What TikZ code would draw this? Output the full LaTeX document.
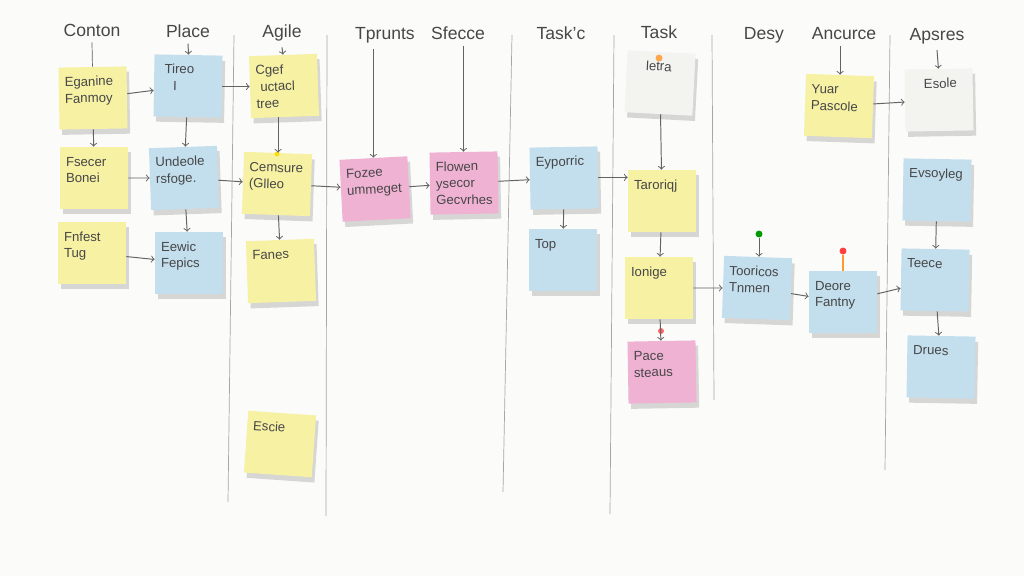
\documentclass[tikz,border=0pt]{standalone}
\usepackage{fontspec}
\setmainfont{Liberation Sans}
\usepackage{xcolor}
\usepackage{tikz}
\usetikzlibrary{shapes,arrows,positioning,shadows}

\definecolor{board}{HTML}{FBFBFA}
\definecolor{ink}{HTML}{474747}
\definecolor{noteyellow}{HTML}{F7F1A4}
\definecolor{noteblue}{HTML}{C3DEED}
\definecolor{notepink}{HTML}{EFB2D3}
\definecolor{notewhite}{HTML}{F3F3F0}

\begin{document}
\begin{tikzpicture}[x=0.02cm, y=-0.02cm,
  note/.style={rectangle, text width=1.12cm, text height=0.26cm, text depth=0.74cm, inner sep=0.12cm, align=left, font=\fontsize{7.5}{9.5}\selectfont, text=ink, drop shadow={shadow xshift=1.5pt, shadow yshift=-3pt, fill=black!30, opacity=0.5}},
  ynote/.style={note, fill=noteyellow},
  bnote/.style={note, fill=noteblue},
  pnote/.style={note, fill=notepink},
  wnote/.style={note, fill=notewhite},
  head/.style={font=\fontsize{10}{12}\selectfont, text=ink},
  tack/.style={circle, inner sep=1.4pt},
  divider/.style={draw=black!35, thin},
  line/.style={draw=ink!85, line width=0.55pt, ->}]

  \useasboundingbox [fill=board] (0,0) rectangle (1024,576);

  % column lines
  \draw [divider] (234,35) -- (228,502);
  \draw [divider] (327,35) -- (326,516);
  \draw [divider] (512,35) -- (503,492);
  \draw [divider] (614,35) -- (610,514);
  \draw [divider] (712,35) -- (714,400);
  \draw [divider] (890,35) -- (885,470);

  % headers
  \node [head] (conton) at (92,30) {Conton};
  \node [head] (place) at (188,31) {Place};
  \node [head] (agile) at (282,33) {Agile};
  \node [head] (tprunts) at (385,35) {Tprunts};
  \node [head] (sfecce) at (458,33) {Sfecce};
  \node [head] (taskc) at (561,33) {Task'c};
  \node [head] (task) at (659,32) {Task};
  \node [head] (desy) at (764,35) {Desy};
  \node [head] (ancurce) at (844,34) {Ancurce};
  \node [head] (apsres) at (937,36) {Apsres};

  % notes
  \node [ynote, rotate=1] (eganine) at (93,98) {Eganine\\Fanmoy};
  \node [bnote, rotate=-1] (tireo) at (188,86) {\ Tireo\\\quad I};
  \node [ynote, rotate=2] (cgef) at (284,86) {Cgef\\\ uctacl\\tree};
  \node [ynote] (fsecer) at (94,178) {Fsecer\\Bonei};
  \node [bnote, rotate=2] (undeole) at (184,178) {Undeole\\rsfoge.};
  \node [ynote, rotate=-2] (cemsure) at (277,184) {Cemsure\\(Glleo};
  \node [ynote] (fnfest) at (92,253) {Fnfest\\Tug};
  \node [bnote] (eewic) at (189,263) {Eewic\\Fepics};
  \node [ynote, rotate=2] (fanes) at (281,271) {Fanes};
  \node [ynote, rotate=-4] (escie) at (280,444) {Escie};
  \node [pnote, rotate=3] (fozee) at (375,189) {Fozee\\ummeget};
  \node [pnote, rotate=1] (flowen) at (464,183) {Flowen\\ysecor\\Gecvrhes};
  \node [bnote, rotate=1] (eyporric) at (564,178) {Eyporric};
  \node [bnote] (top) at (563,260) {Top};
  \node [wnote, rotate=-3] (letra) at (660,83) {\quad letra};
  \node [ynote] (taroriqj) at (662,201) {Taroriqj};
  \node [ynote] (ionige) at (659,288) {Ionige};
  \node [pnote, rotate=1] (pace) at (662,372) {Pace\\steaus};
  \node [ynote, rotate=-2] (yuar) at (839,106) {Yuar\\Pascole};
  \node [wnote, rotate=1] (esole) at (939,100) {\quad Esole};
  \node [bnote, rotate=-1] (evsoyleg) at (937,190) {Evsoyleg};
  \node [bnote, rotate=-2] (tooricos) at (757,288) {Tooricos\\Tnmen};
  \node [bnote] (deore) at (843,302) {Deore\\Fantny};
  \node [bnote, rotate=-1] (teece) at (935,280) {Teece};
  \node [bnote, rotate=-1] (drues) at (941,367) {Drues};

  % tacks
  \node [tack, fill=orange!70] (tackletra) at (659,58) {};
  \node [tack, fill=green!60!black] (tackgreen) at (759,234) {};
  \node [tack, fill=red!75] (tackred) at (843,251) {};
  \node [tack, fill=red!60, inner sep=1.2pt] (tackpink) at (661,331) {};
  \node [tack, fill=yellow!80!orange, inner sep=1pt] (tackyellow) at (277,154) {};

  % flows
  \draw [draw=ink!85, thin] (conton.south) -- (eganine.north);
  \draw [line] (place.south) -- (tireo.north);
  \draw [line] (agile.south) -- (cgef.north);
  \draw [line] (tprunts.south -| fozee.north) -- (fozee.north);
  \draw [line] (sfecce.south -| flowen.north) -- (flowen.north);
  \draw [line] (ancurce.south -| yuar.north) -- (yuar.north);
  \draw [line] (apsres.south) -- (esole.north);

  \draw [line] (eganine) -- (tireo);
  \draw [line] (tireo.east) -- (cgef.west |- tireo.east);
  \draw [line] (eganine) -- (fsecer);
  \draw [line] (tireo) -- (undeole);
  \draw [line] (cgef.south -| cemsure.north) -- (cemsure.north);
  \draw [line] (fsecer) -- (undeole);
  \draw [line] (undeole) -- (cemsure);
  \draw [line] (cemsure) -- (fozee);
  \draw [line] (cemsure) -- (fanes);
  \draw [line] (fnfest) -- (eewic);
  \draw [line] (undeole) -- (eewic);
  \draw [line] (fozee) -- (flowen);
  \draw [line] (flowen) -- (eyporric);
  \draw [line] (eyporric.east) -- (eyporric.east -| taroriqj.west);
  \draw [line] (eyporric) -- (top);
  \draw [line] (letra) -- (taroriqj);
  \draw [line] (taroriqj) -- (ionige);
  \draw [line] (ionige) -- (pace);
  \draw [line] (ionige) -- (tooricos);
  \draw [line] (tooricos) -- (deore);
  \draw [line] (deore) -- (teece);
  \draw [line] (tackgreen) -- (tooricos.north -| tackgreen);
  \draw [draw=orange!80, thick] (tackred) -- (deore.north -| tackred);
  \draw [line] (yuar) -- (esole);
  \draw [line] (evsoyleg) -- (teece);
  \draw [line] (teece) -- (drues);
\end{tikzpicture}
\end{document}
